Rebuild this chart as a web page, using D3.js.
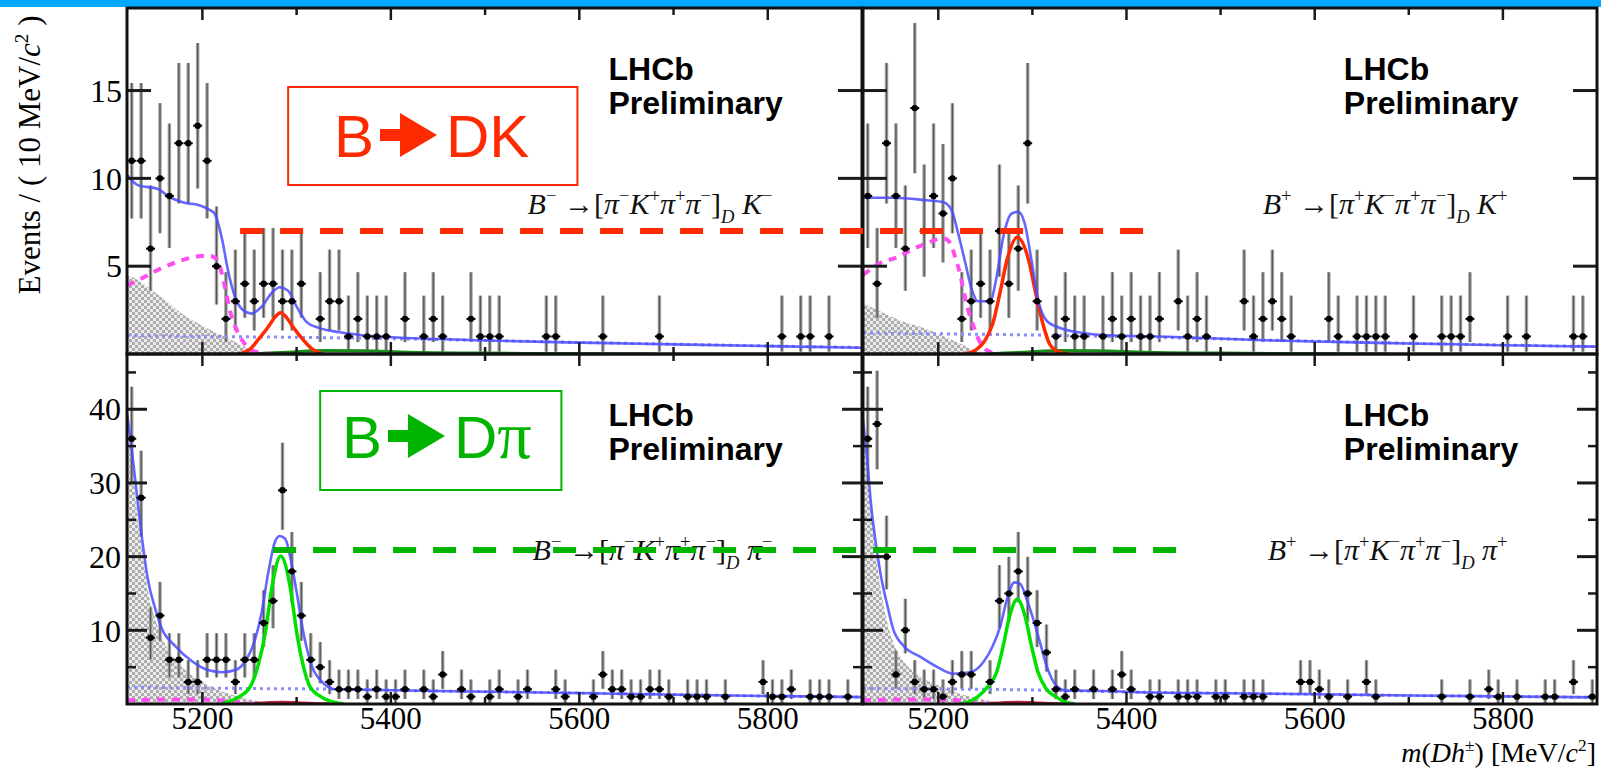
<!DOCTYPE html>
<html>
<head>
<meta charset="utf-8">
<script src="https://cdn.jsdelivr.net/npm/d3@7"></script>
<style>
body{margin:0;background:#fff}
svg{display:block}
</style>
</head>
<body>
<svg id="chart" width="1601" height="770"></svg>
<script>
// bin centres, 10 MeV bins from 5120 to 5900
var binCentres = d3.range(5125, 5900, 10);

// event counts per bin
var countsDKminus = [11,11,6,10,9,12,12,13,11,5, 2,3,4,3,4,4,3,3,4,0, 2,3,3,1,2,1,1,1,0,2,
  0,1,2,1,0,0,2,1,1,1, 0,0,0,0,1,1,0,0,0,0, 1,0,0,0,0,0,1,0,0,0, 0,0,0,0,0,0,0,0,0,1, 0,1,1,0,1,0,0,0];
var countsDKplus = [9,4,12,9,6,14,7,9,8,10, 2,3,4,3,7,4,6,12,3,0, 1,2,1,1,0,1,2,1,2,1,
  1,2,0,3,1,2,1,0,0,0, 3,1,2,3,2,1,0,0,0,2, 1,0,1,1,1,1,0,0,1,0, 0,1,1,1,2,0,0,0,1,0, 1,0,0,0,0,1,1,0];
var countsDpiMinus = [36,28,9,12,6,6,3,3,6,6, 6,3,6,6,11,14,29,18,12,6, 5,3,2,2,2,1,2,1,1,2,
  0,2,1,4,0,2,1,0,1,2, 0,1,2,0,0,2,1,0,0,1, 4,2,2,1,1,2,2,1,0,1, 1,1,0,1,0,0,0,3,1,1, 2,0,1,1,1,0,1,0];
var countsDpiPlus = [36,38,20,4,10,3,2,2,1,3, 4,4,0,3,14,15,18,15,11,7, 2,1,2,0,2,0,2,4,2,0,
  1,1,0,1,1,1,0,1,1,0, 1,1,1,0,0,0,3,3,2,1, 0,1,0,3,1,0,0,0,0,0, 0,1,0,0,1,0,2,1,0,1, 0,0,1,1,0,3,0,1];

// fit components [mass, events]
var totalDKminus = [[5120,10.2],[5132,9.6],[5153,9.4],[5163,9.0],[5182,8.6],[5195,8.5],[5208,8.2],[5213,8.0],[5221,6.5],[5227,4.8],[5235,3.2],[5243,2.5],[5252,2.3],[5263,2.7],[5274,3.5],[5282,3.8],[5291,3.6],[5300,2.7],[5311,1.8],[5323,1.5],[5344,1.25],[5365,1.1],[5400,0.95],[5450,0.85],[5500,0.77],[5600,0.65],[5700,0.55],[5800,0.45],[5900,0.36]];
var signalDKminus = [[5238,0],[5251,0.3],[5259,0.8],[5270,1.55],[5277,2.1],[5283,2.35],[5289,2.1],[5296,1.55],[5307,0.8],[5316,0.3],[5328,0]];
var partRecoDKminus = [[5120,3.9],[5139,4.4],[5153,4.8],[5171,5.2],[5189,5.5],[5206,5.6],[5213,5.5],[5219,4.9],[5224,3.8],[5229,2.5],[5235,1.55],[5242,0.8],[5248,0.4],[5259,0.1],[5275,0]];
var hatchDKminus = [[5120,4.5],[5132,4.2],[5147,3.6],[5160,3.1],[5178,2.3],[5195,1.75],[5213,1.25],[5231,0.8],[5245,0.4],[5260,0.05],[5275,0]];
var combDKminus = [[5120,1.05],[5200,1.0],[5300,0.95],[5400,0.87],[5500,0.77],[5600,0.66],[5700,0.56],[5800,0.46],[5900,0.37]];
var misIdDK = [[5250,0],[5290,0.1],[5330,0.2],[5370,0.18],[5420,0.1],[5500,0.05],[5600,0.02],[5680,0]];

var totalDKplus = [[5120,8.9],[5152,8.9],[5188,8.75],[5205,8.65],[5214,8.2],[5221,6.9],[5228,5.35],[5236,3.6],[5242,3.0],[5255,3.0],[5262,4.4],[5269,6.65],[5278,8.0],[5285,8.1],[5292,7.4],[5299,5.35],[5306,3.1],[5315,1.9],[5326,1.55],[5347,1.25],[5371,1.1],[5450,0.97],[5555,0.77],[5700,0.6],[5800,0.5],[5900,0.42]];
var signalDKplus = [[5228,0],[5239,0.2],[5250,0.8],[5258,1.75],[5266,3.6],[5273,5.35],[5284,6.65],[5296,5.35],[5303,3.6],[5311,1.75],[5318,0.6],[5325,0.2],[5338,0]];
var partRecoDKplus = [[5120,4.5],[5139,5.2],[5156,5.5],[5170,5.9],[5188,6.3],[5205,6.6],[5213,6.3],[5218,5.5],[5223,4.6],[5228,3.3],[5234,2.1],[5239,1.35],[5244,0.7],[5252,0.2],[5265,0]];
var hatchDKplus = [[5120,2.9],[5139,2.4],[5160,1.9],[5181,1.55],[5202,1.1],[5223,0.6],[5238,0.2],[5252,0]];
var combDKplus = [[5120,1.2],[5200,1.15],[5300,1.08],[5400,0.98],[5500,0.86],[5600,0.73],[5700,0.61],[5800,0.51],[5900,0.42]];

var totalDpiMinus = [[5120,39.5],[5125,34.6],[5131,27.8],[5136,22.4],[5142,17.0],[5150,12.9],[5157,10.2],[5171,7.9],[5189,5.8],[5206,4.6],[5221,4.3],[5235,4.6],[5245,5.7],[5256,8.8],[5263,12.5],[5270,17.9],[5277,22.0],[5282,22.8],[5288,22.4],[5293,20.1],[5300,15.2],[5307,9.8],[5316,5.2],[5327,3.0],[5341,2.0],[5365,1.95],[5430,1.8],[5540,1.6],[5640,1.4],[5760,1.15],[5900,0.93]];
var signalDpiMinus = [[5220,0],[5225,0.2],[5238,0.9],[5251,2.4],[5259,5.2],[5267,9.8],[5274,16.0],[5283,20.1],[5293,16.0],[5300,9.8],[5307,5.2],[5314,2.4],[5327,0.9],[5341,0.2],[5350,0]];
var hatchDpiMinus = [[5120,38],[5125,33],[5131,26],[5136,21],[5142,15.5],[5150,11.5],[5157,9],[5170,6.2],[5190,3.8],[5210,2.3],[5230,1.3],[5250,0.6],[5270,0.2],[5290,0]];
var combDpiMinus = [[5120,2.3],[5250,2.1],[5350,2.0],[5430,1.8],[5540,1.6],[5640,1.4],[5760,1.15],[5900,0.93]];

var totalDpiPlus = [[5120,38.5],[5125,32.3],[5128,27.8],[5133,22.4],[5139,17.4],[5146,13.3],[5152,10.2],[5163,7.9],[5181,6.4],[5199,5.0],[5216,4.1],[5234,4.3],[5248,5.7],[5258,7.9],[5266,10.6],[5273,14.2],[5281,16.5],[5287,16.3],[5294,14.2],[5301,11.5],[5308,8.4],[5315,5.2],[5326,2.4],[5336,1.8],[5364,1.8],[5414,1.6],[5555,1.4],[5700,1.15],[5900,0.9]];
var signalDpiPlus = [[5222,0],[5231,0.2],[5241,0.9],[5253,2.4],[5262,4.3],[5269,7.9],[5276,12.0],[5284,14.2],[5292,12.0],[5299,7.9],[5306,4.3],[5315,2.0],[5326,0.9],[5336,0.2],[5345,0]];
var hatchDpiPlus = [[5120,36],[5125,31],[5130,25],[5135,19],[5141,14],[5148,10],[5155,7.5],[5165,5.5],[5180,3.8],[5200,2.5],[5220,1.5],[5240,0.8],[5260,0.3],[5280,0]];
var combDpiPlus = [[5120,2.1],[5300,1.9],[5414,1.6],[5555,1.4],[5700,1.15],[5900,0.9]];

var partRecoDpi = [[5120,0.5],[5160,0.6],[5200,0.6],[5230,0.4],[5245,0.1],[5255,0]];
var misIdDpi = [[5240,0],[5265,0.15],[5285,0.25],[5305,0.15],[5330,0.03],[5345,0]];

// dashed reference lines: [start mass (left panel), end mass (right panel), height]
var dkRefLine = [5240, 5425, 7.0];
var dpiRefLine = [5275, 5460, 20.9];

// ticks
var xMajorTicks = [5200, 5400, 5600, 5800];
var xMinorTicks = [5300, 5500, 5700];
var yTicksTop = [5, 10, 15];
var yMajorBottom = [10, 20, 30, 40];
var yMinorBottom = [5, 15, 25, 35, 45];

// decay labels [text, position, italic]
var labelDKminus = [["B","",1],["\u2212","sup"],[" \u2192[",""],["\u03c0","",1],["\u2212","sup"],["K","",1],["+","sup"],["\u03c0","",1],["+","sup"],["\u03c0","",1],["\u2212","sup"],["]",""],["D","sub",1],[" K","",1],["\u2212","sup"]];
var labelDKplus = [["B","",1],["+","sup"],[" \u2192[",""],["\u03c0","",1],["+","sup"],["K","",1],["\u2212","sup"],["\u03c0","",1],["+","sup"],["\u03c0","",1],["\u2212","sup"],["]",""],["D","sub",1],[" K","",1],["+","sup"]];
var labelDpiMinus = [["B","",1],["\u2212","sup"],[" \u2192[",""],["\u03c0","",1],["\u2212","sup"],["K","",1],["+","sup"],["\u03c0","",1],["+","sup"],["\u03c0","",1],["\u2212","sup"],["]",""],["D","sub",1],[" \u03c0","",1],["\u2212","sup"]];
var labelDpiPlus = [["B","",1],["+","sup"],[" \u2192[",""],["\u03c0","",1],["+","sup"],["K","",1],["\u2212","sup"],["\u03c0","",1],["+","sup"],["\u03c0","",1],["\u2212","sup"],["]",""],["D","sub",1],[" \u03c0","",1],["+","sup"]];

var RED = "#ff2a00", GREEN = "#00b400", SERIF = "'Liberation Serif','Times New Roman',serif", SANS = "'Liberation Sans',Arial,sans-serif";

var svg = d3.select("#chart");

// top blue strip
svg.append("rect").attr("x", 0).attr("y", 0).attr("width", 1601).attr("height", 7).attr("fill", "#00a8ff");

var xL = d3.scaleLinear().domain([5120, 5900]).range([127, 862]);
var xR = d3.scaleLinear().domain([5120, 5900]).range([863, 1597]);
var yT = d3.scaleLinear().domain([0, 19.7]).range([354, 8]);
var yB = d3.scaleLinear().domain([0, 47.5]).range([704, 354]);

var defs = svg.append("defs");
var pat = defs.append("pattern").attr("id", "chk").attr("width", 6).attr("height", 6).attr("patternUnits", "userSpaceOnUse");
pat.append("rect").attr("width", 6).attr("height", 6).attr("fill", "#ebebeb");
pat.append("rect").attr("width", 3).attr("height", 3).attr("fill", "#adadad");
pat.append("rect").attr("x", 3).attr("y", 3).attr("width", 3).attr("height", 3).attr("fill", "#adadad");

var panels = [
  {id: "p1", x: xL, y: yT, counts: countsDKminus, total: totalDKminus, signal: signalDKminus, sigColor: RED, part: partRecoDKminus, hatch: hatchDKminus, comb: combDKminus, misId: misIdDK, misColor: "#1a8a1a", label: labelDKminus, yTicks: yTicksTop, yMinor: [], tickLen: 24},
  {id: "p2", x: xR, y: yT, counts: countsDKplus, total: totalDKplus, signal: signalDKplus, sigColor: RED, part: partRecoDKplus, hatch: hatchDKplus, comb: combDKplus, misId: misIdDK, misColor: "#1a8a1a", label: labelDKplus, yTicks: yTicksTop, yMinor: [], tickLen: 24},
  {id: "p3", x: xL, y: yB, counts: countsDpiMinus, total: totalDpiMinus, signal: signalDpiMinus, sigColor: "#00e000", part: partRecoDpi, hatch: hatchDpiMinus, comb: combDpiMinus, misId: misIdDpi, misColor: "#c0203a", label: labelDpiMinus, yTicks: yMajorBottom, yMinor: yMinorBottom, tickLen: 20},
  {id: "p4", x: xR, y: yB, counts: countsDpiPlus, total: totalDpiPlus, signal: signalDpiPlus, sigColor: "#00e000", part: partRecoDpi, hatch: hatchDpiPlus, comb: combDpiPlus, misId: misIdDpi, misColor: "#c0203a", label: labelDpiPlus, yTicks: yMajorBottom, yMinor: yMinorBottom, tickLen: 20}
];

function richText(sel, segs, fs) {
  var cur = 0;
  segs.forEach(function(s){
    var kind = s[1];
    var target = kind == "sup" ? -0.4 * fs : (kind == "sub" ? 0.3 * fs : 0);
    sel.append("tspan")
      .attr("dy", target - cur)
      .attr("font-size", kind ? fs * 0.62 : fs)
      .attr("font-style", s[2] ? "italic" : "normal")
      .text(s[0]);
    cur = target;
  });
}

function garwood(n) {
  return [n - Math.sqrt(n - 0.25), n + 1 + Math.sqrt(n + 0.75)];
}

function drawPanel(p) {
  var x0 = p.x.range()[0], x1 = p.x.range()[1];
  var yTop = p.y.range()[1], yBot = p.y.range()[0];

  defs.append("clipPath").attr("id", p.id + "-clip")
    .append("rect").attr("x", x0).attr("y", yTop).attr("width", x1 - x0).attr("height", yBot - yTop);

  var g = svg.append("g").attr("clip-path", "url(#" + p.id + "-clip)");

  var line = d3.line().x(function(d){ return p.x(d[0]); }).y(function(d){ return p.y(d[1]); }).curve(d3.curveMonotoneX);
  var area = d3.area().x(function(d){ return p.x(d[0]); }).y0(p.y(0)).y1(function(d){ return p.y(d[1]); }).curve(d3.curveMonotoneX);

  g.append("path").attr("d", area(p.hatch)).attr("fill", "url(#chk)");

  // error bars
  var pts = binCentres.map(function(m, i){ return {m: m, n: p.counts[i]}; }).filter(function(d){ return d.n > 0; });
  g.selectAll(".eb").data(pts).enter().append("line")
    .attr("x1", function(d){ return p.x(d.m); }).attr("x2", function(d){ return p.x(d.m); })
    .attr("y1", function(d){ return p.y(garwood(d.n)[0]); })
    .attr("y2", function(d){ return p.y(garwood(d.n)[1]); })
    .attr("stroke", "#a2a2a2").attr("stroke-width", 3.5);
  g.selectAll(".eb2").data(pts).enter().append("line")
    .attr("x1", function(d){ return p.x(d.m); }).attr("x2", function(d){ return p.x(d.m); })
    .attr("y1", function(d){ return p.y(garwood(d.n)[0]); })
    .attr("y2", function(d){ return p.y(garwood(d.n)[1]); })
    .attr("stroke", "#333").attr("stroke-width", 1.2).attr("opacity", 0.7);

  g.append("path").attr("d", line(p.comb)).attr("fill", "none").attr("stroke", "#8c8cff").attr("stroke-width", 3).attr("stroke-dasharray", "3,4");
  g.append("path").attr("d", line(p.misId)).attr("fill", "none").attr("stroke", p.misColor).attr("stroke-width", 3);
  g.append("path").attr("d", line(p.part)).attr("fill", "none").attr("stroke", "#ff4ef0").attr("stroke-width", 4).attr("stroke-dasharray", "8,7");
  g.append("path").attr("d", line(p.signal)).attr("fill", "none").attr("stroke", p.sigColor).attr("stroke-width", 3.5);
  g.append("path").attr("d", line(p.total)).attr("fill", "none").attr("stroke", "#4a4aff").attr("stroke-width", 2.6).attr("opacity", 0.85);

  // data points
  g.selectAll(".hb").data(pts).enter().append("line")
    .attr("x1", function(d){ return p.x(d.m) - 4.5; }).attr("x2", function(d){ return p.x(d.m) + 4.5; })
    .attr("y1", function(d){ return p.y(d.n); }).attr("y2", function(d){ return p.y(d.n); })
    .attr("stroke", "#000").attr("stroke-width", 2);
  g.selectAll(".pt").data(pts).enter().append("circle")
    .attr("cx", function(d){ return p.x(d.m); }).attr("cy", function(d){ return p.y(d.n); })
    .attr("r", 3.2).attr("fill", "#000");

  // ticks
  var tk = svg.append("g").attr("stroke", "#1a1a1a");
  p.yTicks.forEach(function(v){
    tk.append("line").attr("x1", x0).attr("x2", x0 + p.tickLen).attr("y1", p.y(v)).attr("y2", p.y(v)).attr("stroke-width", 3);
    tk.append("line").attr("x1", x1).attr("x2", x1 - p.tickLen).attr("y1", p.y(v)).attr("y2", p.y(v)).attr("stroke-width", 3);
  });
  p.yMinor.forEach(function(v){
    tk.append("line").attr("x1", x0).attr("x2", x0 + 9).attr("y1", p.y(v)).attr("y2", p.y(v)).attr("stroke-width", 2.5);
    tk.append("line").attr("x1", x1).attr("x2", x1 - 9).attr("y1", p.y(v)).attr("y2", p.y(v)).attr("stroke-width", 2.5);
  });
  xMajorTicks.forEach(function(m){
    tk.append("line").attr("x1", p.x(m)).attr("x2", p.x(m)).attr("y1", yTop).attr("y2", yTop + 12).attr("stroke-width", 2.5);
    tk.append("line").attr("x1", p.x(m)).attr("x2", p.x(m)).attr("y1", yBot).attr("y2", yBot - 12).attr("stroke-width", 2.5);
  });
  xMinorTicks.forEach(function(m){
    tk.append("line").attr("x1", p.x(m)).attr("x2", p.x(m)).attr("y1", yTop).attr("y2", yTop + 7).attr("stroke-width", 2.5);
    tk.append("line").attr("x1", p.x(m)).attr("x2", p.x(m)).attr("y1", yBot).attr("y2", yBot - 7).attr("stroke-width", 2.5);
  });

  // frame
  svg.append("rect").attr("x", x0).attr("y", yTop).attr("width", x1 - x0).attr("height", yBot - yTop)
    .attr("fill", "none").attr("stroke", "#111").attr("stroke-width", 3);

  // LHCb Preliminary
  var lx = p.x(5631);
  svg.append("text").attr("x", lx).attr("y", yTop + 72).attr("font-family", SANS).attr("font-weight", "bold").attr("font-size", 32).text("LHCb");
  svg.append("text").attr("x", lx).attr("y", yTop + 106).attr("font-family", SANS).attr("font-weight", "bold").attr("font-size", 32).text("Preliminary");

  // decay label
  var t = svg.append("text").attr("x", p.x(5805)).attr("y", yTop + 206).attr("text-anchor", "end").attr("font-family", SERIF).attr("fill", "#111");
  richText(t, p.label, 30);
}

panels.forEach(drawPanel);

// dashed reference lines across the two columns
svg.append("line").attr("x1", xL(dkRefLine[0])).attr("x2", xR(dkRefLine[1]))
  .attr("y1", yT(dkRefLine[2])).attr("y2", yT(dkRefLine[2]))
  .attr("stroke", RED).attr("stroke-width", 6).attr("stroke-dasharray", "23,17");
svg.append("line").attr("x1", xL(dpiRefLine[0])).attr("x2", xR(dpiRefLine[1]))
  .attr("y1", yB(dpiRefLine[2])).attr("y2", yB(dpiRefLine[2]))
  .attr("stroke", GREEN).attr("stroke-width", 6).attr("stroke-dasharray", "23,17");

// boxed channel tags
function fatArrow(x, y, color) {
  var pts = [[0,-6],[20,-6],[20,-22],[57,0],[20,22],[20,6],[0,6]];
  svg.append("polygon").attr("points", pts.map(function(q){ return (x + q[0]) + "," + (y + q[1]); }).join(" ")).attr("fill", color);
}

svg.append("rect").attr("x", xL(5291)).attr("y", 87).attr("width", xL(5598) - xL(5291)).attr("height", 98)
  .attr("fill", "none").attr("stroke", RED).attr("stroke-width", 2);
svg.append("text").attr("x", 334).attr("y", 157).attr("font-family", SANS).attr("font-size", 60).attr("fill", RED).text("B");
fatArrow(380, 135, RED);
svg.append("text").attr("x", 446).attr("y", 157).attr("font-family", SANS).attr("font-size", 60).attr("fill", RED).text("DK");

svg.append("rect").attr("x", xL(5325)).attr("y", 391).attr("width", xL(5581) - xL(5325)).attr("height", 99)
  .attr("fill", "none").attr("stroke", GREEN).attr("stroke-width", 2);
svg.append("text").attr("x", 342).attr("y", 458).attr("font-family", SANS).attr("font-size", 60).attr("fill", GREEN).text("B");
fatArrow(388, 436, GREEN);
var gt = svg.append("text").attr("x", 454).attr("y", 458).attr("font-family", SANS).attr("font-size", 60).attr("fill", GREEN);
gt.append("tspan").text("D");
gt.append("tspan").attr("font-family", SERIF).attr("font-size", 68).text("\u03c0");

// y tick labels
yTicksTop.forEach(function(v){
  svg.append("text").attr("x", 122).attr("y", yT(v)).attr("dy", "0.35em").attr("text-anchor", "end")
    .attr("font-family", SERIF).attr("font-size", 32).text(v);
});
yMajorBottom.forEach(function(v){
  svg.append("text").attr("x", 121).attr("y", yB(v)).attr("dy", "0.35em").attr("text-anchor", "end")
    .attr("font-family", SERIF).attr("font-size", 32).text(v);
});

// x tick labels
[xL, xR].forEach(function(sc){
  xMajorTicks.forEach(function(m){
    svg.append("text").attr("x", sc(m)).attr("y", 729).attr("text-anchor", "middle")
      .attr("font-family", SERIF).attr("font-size", 31).text(m);
  });
});

// axis titles
var yt = svg.append("text").attr("transform", "translate(40,155) rotate(-90)").attr("text-anchor", "middle").attr("font-family", SERIF);
richText(yt, [["Events / ( 10 MeV/",""],["c","",1],["2","sup"],[" )",""]], 31);

var xt = svg.append("text").attr("x", 1596).attr("y", 762).attr("text-anchor", "end").attr("font-family", SERIF);
richText(xt, [["m","",1],["(",""],["Dh","",1],["\u00b1","sup"],[") [MeV/",""],["c","",1],["2","sup"],["]",""]], 28);
</script>
</body>
</html>
